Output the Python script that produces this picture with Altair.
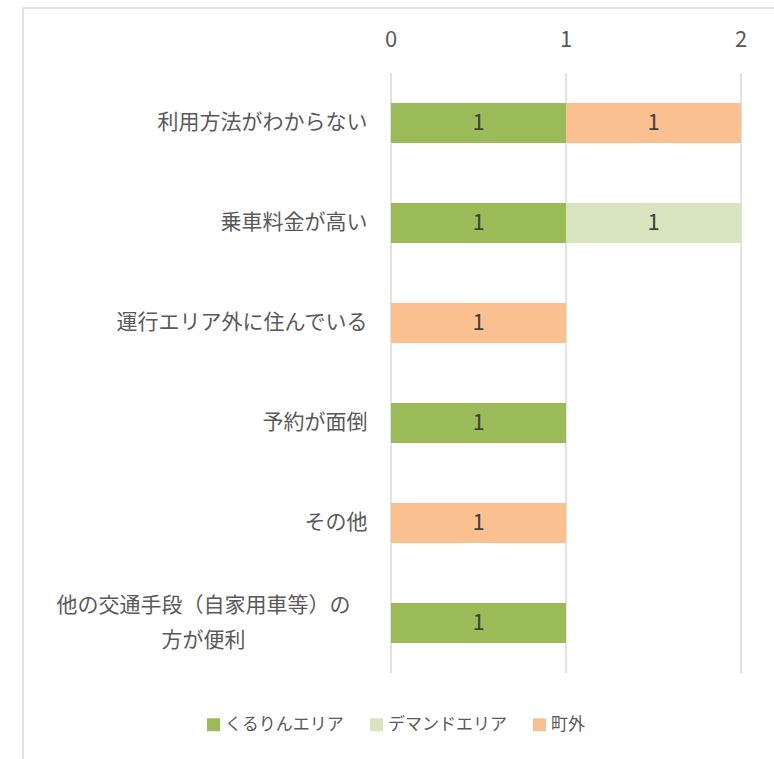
import altair as alt
import pandas as pd

categories = [
    "利用方法がわからない",
    "乗車料金が高い",
    "運行エリア外に住んでいる",
    "予約が面倒",
    "その他",
    "他の交通手段（自家用車等）の方が便利",
]
series = ["くるりんエリア", "デマンドエリア", "町外"]
colors = ["#9BBB59", "#D7E4BD", "#FAC090"]

kururin = [1, 1, 0, 1, 0, 1]
demand = [0, 1, 0, 0, 0, 0]
chogai = [1, 0, 1, 0, 1, 0]

x_ticks = [0, 1, 2]

rows = []
for i, c in enumerate(categories):
    for j, (s, vals) in enumerate(zip(series, [kururin, demand, chogai])):
        if vals[i] > 0:
            rows.append({"category": c, "series": s, "value": vals[i], "order": j})
df = pd.DataFrame(rows)
ticks_df = pd.DataFrame({"t": x_ticks})

LONG = "他の交通手段（自家用車等）の方が便利"
FONT = "Noto Sans CJK JP"
IS_LONG = f"datum.value == '{LONG}'"

base = alt.Chart(df).transform_stack(
    stack="value", groupby=["category"], as_=["x0", "x1"],
    sort=[alt.SortField("order")]
).transform_calculate(mid="(datum.x0 + datum.x1) / 2")

y_axis = alt.Axis(
    domain=False, ticks=False, grid=False,
    labelFont=FONT, labelFontSize=21, labelColor="#595959",
    labelLimit=400, labelLineHeight=35,
    labelAlign=alt.condition(IS_LONG, alt.value("center"), alt.value("right")),
    labelPadding=alt.condition(IS_LONG, alt.value(188), alt.value(24)),
    labelOffset=alt.condition(IS_LONG, alt.value(-17), alt.value(0)),
    labelExpr=f"{IS_LONG} ? ['他の交通手段（自家用車等）の', '方が便利'] : datum.value",
)
y_scale = alt.Scale(paddingInner=0.6, paddingOuter=0.3)
x_scale = alt.Scale(domain=[0, 2], nice=False)

grid = alt.Chart(ticks_df).mark_rule(color="#d9d9d9", strokeWidth=1.5).encode(
    x=alt.X("t:Q", scale=x_scale, axis=None),
    y=alt.value(0), y2=alt.value(600),
)
grid_labels = alt.Chart(ticks_df).mark_text(
    font=FONT, fontSize=22, color="#595959", baseline="middle"
).encode(
    x=alt.X("t:Q", scale=x_scale, axis=None),
    y=alt.value(-33),
    text=alt.Text("t:Q", format="d"),
)

bars = base.mark_bar().encode(
    y=alt.Y("category:N", sort=categories, title=None, scale=y_scale, axis=y_axis),
    x=alt.X("x0:Q", scale=x_scale, title=None, axis=None),
    x2="x1:Q",
    color=alt.Color(
        "series:N", sort=series, scale=alt.Scale(domain=series, range=colors),
        legend=alt.Legend(
            title=None, orient="none", direction="horizontal",
            legendX=-186, legendY=643,
            symbolType="square", symbolSize=169, symbolStrokeWidth=0,
            labelFont=FONT, labelFontSize=17, labelColor="#595959",
            labelOffset=3, columnPadding=24,
        ),
    ),
)

labels = base.mark_text(font=FONT, fontSize=22, color="#404040").encode(
    y=alt.Y("category:N", sort=categories, title=None, scale=y_scale, axis=y_axis),
    x=alt.X("mid:Q", scale=x_scale, title=None, axis=None),
    text=alt.Text("value:Q", format="d"),
)

frame_left = alt.Chart(pd.DataFrame({"a": [0]})).mark_rule(color="#d9d9d9", strokeWidth=1.5).encode(
    x=alt.value(-368), y=alt.value(-65), y2=alt.value(700)
)
frame_top = alt.Chart(pd.DataFrame({"a": [0]})).mark_rule(color="#d9d9d9", strokeWidth=1.5).encode(
    x=alt.value(-368), x2=alt.value(400), y=alt.value(-65)
)

chart = alt.layer(frame_left, frame_top, grid, grid_labels, bars, labels).properties(
    width=350, height=600,
    autosize=alt.AutoSizeParams(type="none"),
    padding={"left": 391, "top": 73, "right": 33, "bottom": 86},
    background="white",
).configure_view(stroke=None)

chart.save("out.html", embed_options={"renderer": "svg", "actions": False})
